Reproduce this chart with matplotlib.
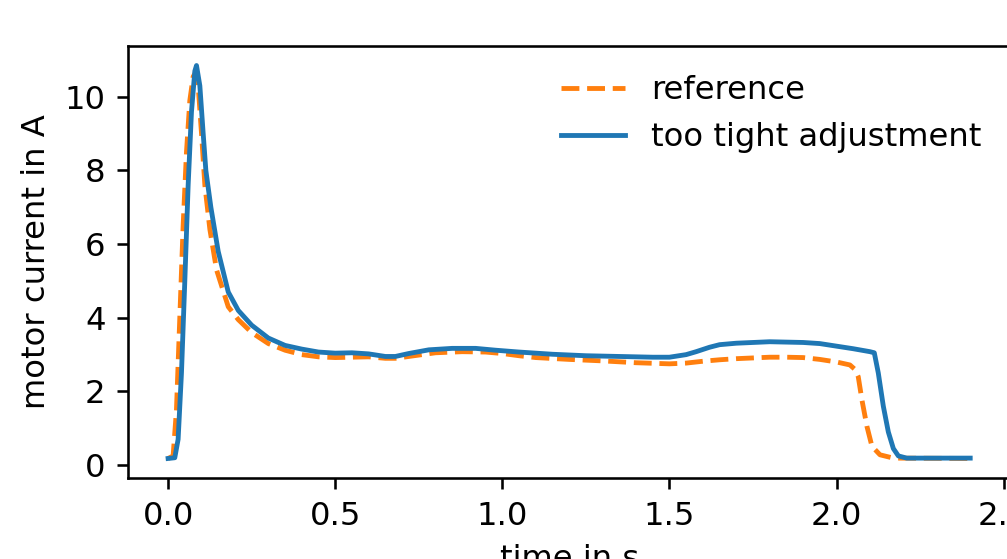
"""Motor current during a run: reference vs. too tight adjustment."""

import matplotlib

matplotlib.use("Agg")
import matplotlib.pyplot as plt

DPI = 232
WIDTH_PX, HEIGHT_PX = 1007, 559

# reference run (orange, dashed)
ref_t = [0.0, 0.015, 0.025, 0.035, 0.045, 0.055, 0.065, 0.075, 0.082,
         0.09, 0.10, 0.11, 0.125, 0.145, 0.18, 0.21, 0.25, 0.30, 0.35,
         0.40, 0.45, 0.50, 0.55, 0.60, 0.65, 0.68, 0.72, 0.80, 0.88,
         0.95, 1.00, 1.05, 1.10, 1.20, 1.30, 1.40, 1.50, 1.55, 1.60,
         1.65, 1.70, 1.80, 1.85, 1.90, 1.95, 2.00, 2.04, 2.055, 2.065,
         2.076, 2.091, 2.106, 2.13, 2.17, 2.40]
ref_i = [0.18, 0.25, 1.5, 4.0, 6.5, 8.5, 9.9, 10.55, 10.65,
         10.3, 9.0, 7.6, 6.4, 5.3, 4.3, 3.95, 3.6, 3.3, 3.12,
         3.0, 2.94, 2.92, 2.93, 2.94, 2.9, 2.9, 2.95, 3.05, 3.08,
         3.07, 3.03, 2.97, 2.92, 2.87, 2.83, 2.78, 2.75, 2.77, 2.82,
         2.86, 2.89, 2.93, 2.93, 2.92, 2.87, 2.8, 2.72, 2.6, 2.4,
         1.77, 1.05, 0.51, 0.28, 0.19, 0.18]

# too tight adjustment (blue, solid)
tight_t = [0.0, 0.02, 0.03, 0.04, 0.05, 0.06, 0.07, 0.08, 0.085,
           0.095, 0.105, 0.113, 0.128, 0.15, 0.18, 0.21, 0.25, 0.30,
           0.35, 0.40, 0.45, 0.50, 0.55, 0.60, 0.65, 0.68, 0.72, 0.78,
           0.85, 0.92, 0.98, 1.05, 1.15, 1.25, 1.35, 1.45, 1.50, 1.55,
           1.58, 1.62, 1.65, 1.70, 1.80, 1.90, 1.95, 2.00, 2.05, 2.10,
           2.113, 2.125, 2.14, 2.155, 2.17, 2.185, 2.21, 2.40]
tight_i = [0.18, 0.2, 0.7, 2.5, 5.0, 7.6, 9.6, 10.7, 10.85,
           10.3, 9.0, 8.0, 7.0, 5.8, 4.7, 4.2, 3.8, 3.45,
           3.25, 3.15, 3.07, 3.04, 3.05, 3.02, 2.95, 2.95, 3.03, 3.13,
           3.17, 3.17, 3.12, 3.07, 3.01, 2.97, 2.95, 2.93, 2.93, 3.0,
           3.08, 3.2, 3.27, 3.31, 3.35, 3.33, 3.30, 3.23, 3.16, 3.08,
           3.05, 2.5, 1.6, 0.9, 0.45, 0.25, 0.19, 0.19]

fig = plt.figure(figsize=(WIDTH_PX / DPI, HEIGHT_PX / DPI), dpi=DPI)
# the original is a crop: the axes run past the right edge of the picture
ax = fig.add_axes([0.1271, 0.1449, 0.8762, 0.7728])

ax.plot(ref_t, ref_i, "--", color="C1", label="reference")
ax.plot(tight_t, tight_i, "-", color="C0", label="too tight adjustment")

ax.set_xlim(-0.12, 2.52)
ax.set_ylim(-0.35, 11.38)
ax.set_xlabel("time in s")
ax.set_ylabel("motor current in A")
ax.legend(loc="upper right", frameon=False)

fig.savefig("out.png", dpi=DPI)
